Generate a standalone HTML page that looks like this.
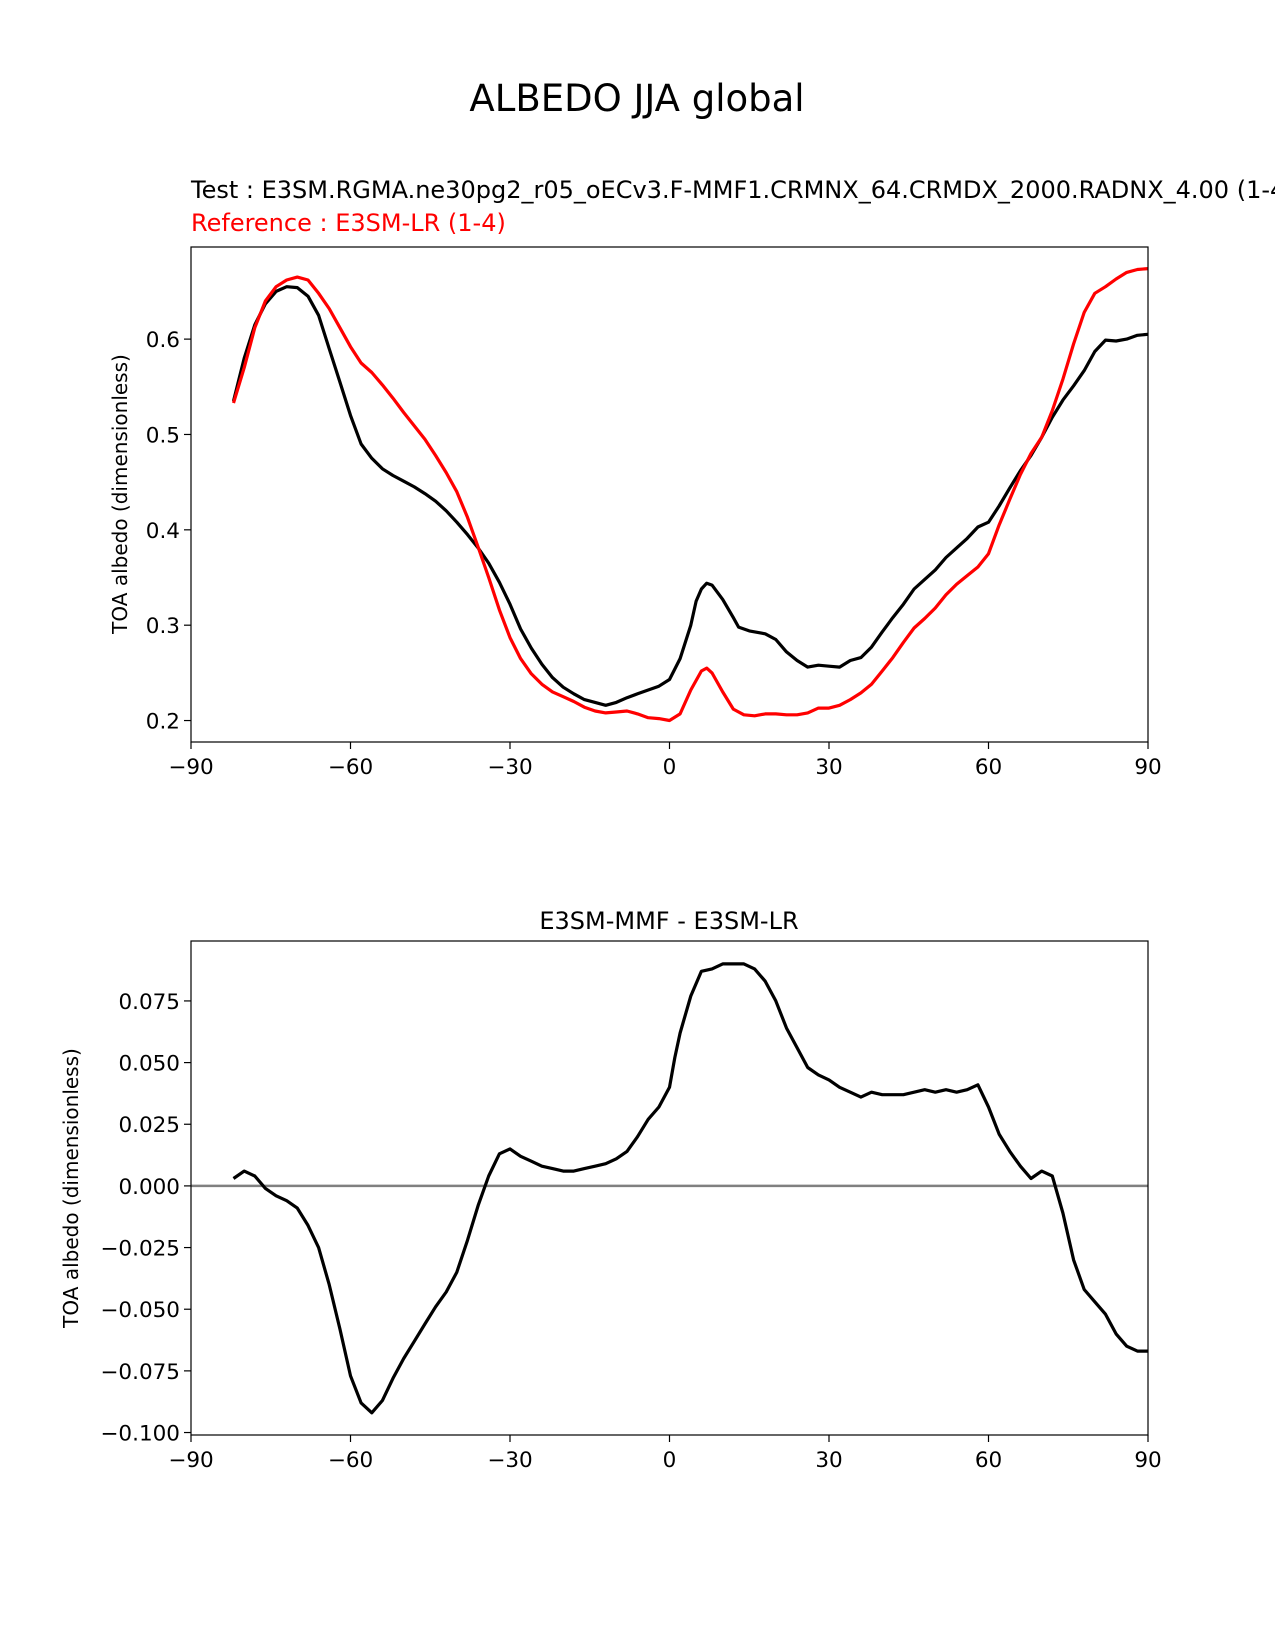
<!DOCTYPE html>
<html><head><meta charset="utf-8"><style>
body{margin:0;background:#fff}
svg{display:block;font-family:"DejaVu Sans","Liberation Sans",sans-serif}
</style></head><body>
<svg id="chart" width="1275" height="1650" viewBox="0 0 1275 1650">
<text x="637" y="111" font-size="37" text-anchor="middle">ALBEDO JJA global</text>
<text x="191" y="198" font-size="24">Test : E3SM.RGMA.ne30pg2_r05_oECv3.F-MMF1.CRMNX_64.CRMDX_2000.RADNX_4.00 (1-4)</text>
<text x="191" y="231" font-size="24" fill="#ff0000">Reference : E3SM-LR (1-4)</text>
<text x="669" y="929" font-size="24" text-anchor="middle">E3SM-MMF - E3SM-LR</text>
<g id="topPanel"></g><g id="botPanel"></g>
</svg>
<script>
const lats=[-82,-80,-78,-76,-74,-72,-70,-68,-66,-64,-62,-60,-58,-56,-54,-52,-50,-48,-46,-44,-42,-40,-38,-36,-34,-32,-30,-28,-26,-24,-22,-20,-18,-16,-14,-12,-10,-8,-6,-4,-2,0,2,4,5,6,7,8,10,12,13,15,18,20,22,24,26,28,30,32,34,36,38,40,42,44,46,48,50,52,54,56,58,60,62,64,66,68,70,72,74,76,78,80,82,84,86,88,90];
const testVals=[0.535,0.58,0.615,0.637,0.65,0.655,0.654,0.645,0.625,0.59,0.555,0.52,0.49,0.475,0.464,0.457,0.451,0.445,0.438,0.43,0.42,0.408,0.395,0.381,0.365,0.345,0.322,0.296,0.276,0.259,0.245,0.235,0.228,0.222,0.219,0.216,0.219,0.224,0.228,0.232,0.236,0.243,0.265,0.3,0.325,0.338,0.344,0.342,0.327,0.308,0.298,0.294,0.291,0.285,0.272,0.263,0.256,0.258,0.257,0.256,0.263,0.266,0.277,0.293,0.308,0.322,0.338,0.348,0.358,0.371,0.381,0.391,0.403,0.408,0.425,0.444,0.462,0.478,0.497,0.518,0.536,0.551,0.567,0.587,0.599,0.598,0.6,0.604,0.605];
const refLats=[-82,-80,-78,-76,-74,-72,-70,-68,-66,-64,-62,-60,-58,-56,-54,-52,-50,-48,-46,-44,-42,-40,-38,-36,-34,-32,-30,-28,-26,-24,-22,-20,-18,-16,-14,-12,-10,-8,-6,-4,-2,0,2,4,6,7,8,10,12,14,16,18,20,22,24,26,28,30,32,34,36,38,40,42,44,46,48,50,52,54,56,58,60,62,64,66,68,70,72,74,76,78,80,82,84,86,88,90];
const refVals=[0.533,0.57,0.612,0.64,0.655,0.662,0.665,0.662,0.648,0.632,0.612,0.592,0.575,0.565,0.552,0.538,0.523,0.509,0.495,0.478,0.46,0.44,0.413,0.382,0.35,0.316,0.287,0.265,0.249,0.238,0.23,0.225,0.22,0.214,0.21,0.208,0.209,0.21,0.207,0.203,0.202,0.2,0.207,0.232,0.252,0.255,0.25,0.23,0.212,0.206,0.205,0.207,0.207,0.206,0.206,0.208,0.213,0.213,0.216,0.222,0.229,0.238,0.252,0.266,0.282,0.297,0.307,0.318,0.332,0.343,0.352,0.361,0.375,0.405,0.432,0.458,0.48,0.497,0.525,0.558,0.595,0.628,0.648,0.655,0.663,0.67,0.673,0.674];
const diffLats=[-82,-80,-78,-76,-74,-72,-70,-68,-66,-64,-62,-60,-58,-56,-54,-52,-50,-48,-46,-44,-42,-40,-38,-36,-34,-32,-30,-28,-26,-24,-22,-20,-18,-16,-14,-12,-10,-8,-6,-4,-2,0,1,2,4,6,8,10,12,14,16,18,20,22,24,26,28,30,32,34,36,38,40,42,44,46,48,50,52,54,56,58,60,62,64,66,68,70,72,74,76,78,80,82,84,86,88,90];
const diffVals=[0.003,0.006,0.004,-0.001,-0.004,-0.006,-0.009,-0.016,-0.025,-0.04,-0.058,-0.077,-0.088,-0.092,-0.087,-0.078,-0.07,-0.063,-0.056,-0.049,-0.043,-0.035,-0.022,-0.008,0.004,0.013,0.015,0.012,0.01,0.008,0.007,0.006,0.006,0.007,0.008,0.009,0.011,0.014,0.02,0.027,0.032,0.04,0.052,0.062,0.077,0.087,0.088,0.09,0.09,0.09,0.088,0.083,0.075,0.064,0.056,0.048,0.045,0.043,0.04,0.038,0.036,0.038,0.037,0.037,0.037,0.038,0.039,0.038,0.039,0.038,0.039,0.041,0.032,0.021,0.014,0.008,0.003,0.006,0.004,-0.011,-0.03,-0.042,-0.047,-0.052,-0.06,-0.065,-0.067,-0.067];
const xTicks=[-90,-60,-30,0,30,60,90];
const xTickLabels=["\u221290","\u221260","\u221230","0","30","60","90"];
const topYTicks=[0.2,0.3,0.4,0.5,0.6];
const topYLabels=["0.2","0.3","0.4","0.5","0.6"];
const botYTicks=[-0.1,-0.075,-0.05,-0.025,0,0.025,0.05,0.075];
const botYLabels=["\u22120.100","\u22120.075","\u22120.050","\u22120.025","0.000","0.025","0.050","0.075"];

const NS="http://www.w3.org/2000/svg";
function mk(tag,attrs,parent){const e=document.createElementNS(NS,tag);for(const k in attrs)e.setAttribute(k,attrs[k]);parent.appendChild(e);return e;}
const L=191,R=1148;
const xs=v=>L+(v+90)/180*(R-L);

function axes(g,T,B,y0,y1,ticks,labels){
  const ys=v=>B-(v-y0)/(y1-y0)*(B-T);
  xTicks.forEach((t,i)=>{
    const tk=mk('line',{x1:xs(t),x2:xs(t),y1:B,y2:B+7,stroke:'#000','stroke-width':1.2},g);
    
    
    const tx=mk('text',{x:xs(t),y:B+32,'font-size':21.5,'text-anchor':'middle'},g);
    tx.textContent=xTickLabels[i];
    
    
  });
  ticks.forEach((t,i)=>{
    const tk=mk('line',{x1:L-7,x2:L,y1:ys(t),y2:ys(t),stroke:'#000','stroke-width':1.2},g);
    
    
    const tx=mk('text',{x:L-11,y:ys(t)+8,'font-size':21.5,'text-anchor':'end'},g);
    tx.textContent=labels[i];
    
    
  });
  return ys;
}
function line(g,la,va,ys,color,name){
  const d=la.map((x,i)=>(i?'L':'M')+xs(x).toFixed(1)+','+ys(va[i]).toFixed(1)).join('');
  const p=mk('path',{d:d,fill:'none',stroke:color,'stroke-width':3.2,'stroke-linejoin':'round'},g);
  
  
}
function ylab(g,x,y,name){
  const t=mk('text',{x:x,y:y,'font-size':20,'text-anchor':'middle',transform:`rotate(-90 ${x} ${y})`},g);
  t.textContent='TOA albedo (dimensionless)';
  
  
}
const topG=document.getElementById('topPanel');
const ysT=axes(topG,247,742,0.1775,0.6966,topYTicks,topYLabels);
line(topG,lats,testVals,ysT,'#000','test-line');
line(topG,refLats,refVals,ysT,'#ff0000','reference-line');
ylab(topG,127,494,'top-y-axis-title');
const f1=mk('rect',{x:L,y:247,width:R-L,height:495,fill:'none',stroke:'#000','stroke-width':1.2},topG);



const botG=document.getElementById('botPanel');
const ysB=axes(botG,941,1435,-0.101,0.0993,botYTicks,botYLabels);
const z=mk('line',{x1:L,x2:R,y1:ysB(0),y2:ysB(0),stroke:'#808080','stroke-width':2.5},botG);


line(botG,diffLats,diffVals,ysB,'#000','difference-line');
ylab(botG,78,1188,'bottom-y-axis-title');
const f2=mk('rect',{x:L,y:941,width:R-L,height:494,fill:'none',stroke:'#000','stroke-width':1.2},botG);


</script>
</body></html>
